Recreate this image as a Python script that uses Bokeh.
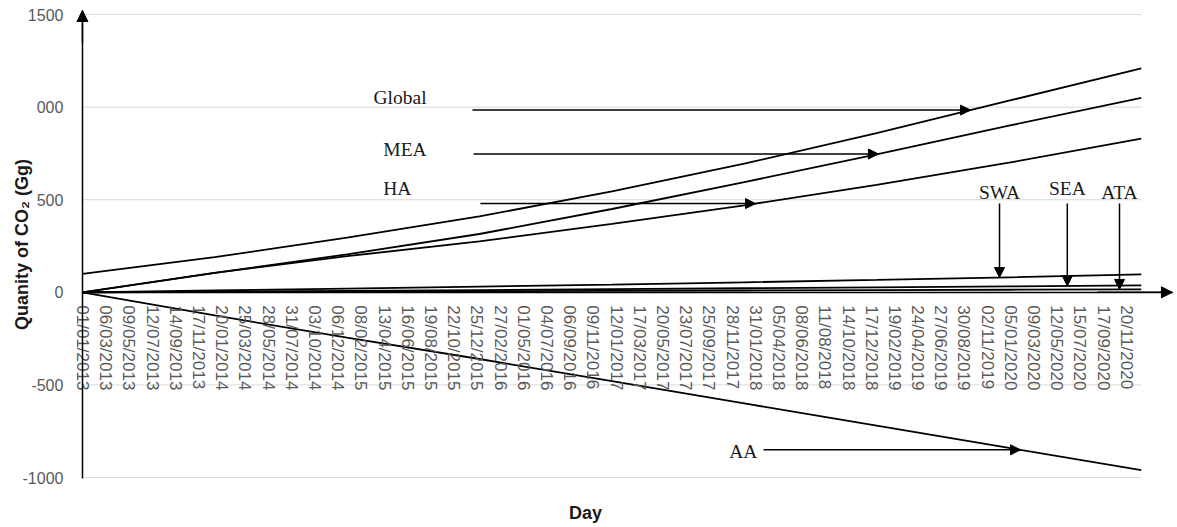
from datetime import datetime

import numpy as np
from bokeh.embed import file_html
from bokeh.models import Arrow, FixedTicker, Label, LinearAxis, NormalHead, Range1d
from bokeh.plotting import figure
from bokeh.resources import INLINE

# ---- data -------------------------------------------------------------
tick_labels = [
    "01/01/2013", "06/03/2013", "09/05/2013", "12/07/2013", "14/09/2013",
    "17/11/2013", "20/01/2014", "25/03/2014", "28/05/2014", "31/07/2014",
    "03/10/2014", "06/12/2014", "08/02/2015", "13/04/2015", "16/06/2015",
    "19/08/2015", "22/10/2015", "25/12/2015", "27/02/2016", "01/05/2016",
    "04/07/2016", "06/09/2016", "09/11/2016", "12/01/2017", "17/03/2017",
    "20/05/2017", "23/07/2017", "25/09/2017", "28/11/2017", "31/01/2018",
    "05/04/2018", "08/06/2018", "11/08/2018", "14/10/2018", "17/12/2018",
    "19/02/2019", "24/04/2019", "27/06/2019", "30/08/2019", "02/11/2019",
    "05/01/2020", "09/03/2020", "12/05/2020", "15/07/2020", "17/09/2020",
    "20/11/2020",
]

point_dates = [
    "01/01/2013", "01/01/2014", "01/01/2015", "01/01/2016", "01/01/2017",
    "01/01/2018", "01/01/2019", "01/01/2020", "31/12/2020",
]

global_co2 = [100, 190, 295, 410, 545, 695, 860, 1035, 1210]
mea_co2 = [0, 105, 205, 315, 450, 595, 745, 900, 1050]
ha_co2 = [0, 105, 195, 275, 370, 470, 580, 700, 830]
swa_co2 = [0, 10, 20, 31, 42, 54, 67, 81, 97]
sea_co2 = [0, 4, 8, 12, 17, 22, 27, 32, 38]
ata_co2 = [0, 2, 4, 6, 8, 10, 12, 14, 16]
aa_co2 = [0, -125, -245, -360, -480, -600, -720, -840, -960]

y_ticks = [-1000, -500, 0, 500, 1000, 1500]
y_tick_labels = ["-1000", "-500", "0", "500", "000", "1500"]

# ---- helpers ------------------------------------------------------------
START = datetime(2013, 1, 1)


def day_of(s):
    return (datetime.strptime(s, "%d/%m/%Y") - START).days


tick_days = [day_of(s) for s in tick_labels]
point_days = [day_of(s) for s in point_dates]
last_day = point_days[-1]

TICK_FONT = "Liberation Sans"
NOTE_FONT = "Liberation Serif"
GREY = "#595959"
INK = "#1a1a1a"

# axis extents (data units)
Y_LO, Y_HI = -1005, 1522
X_AXIS_END = 3007

# the frame fills the whole canvas; both axes sit inside it at x=0 / y=0
p = figure(
    width=1177, height=527,
    output_backend="svg", toolbar_location=None,
    x_range=Range1d(-226, 3021), y_range=Range1d(-1270, 1576),
    x_axis_location=None, y_axis_location="left",
    min_border=0,
    background_fill_color="white", border_fill_color="white",
)
p.outline_line_color = None
p.xgrid.visible = False
p.ygrid.visible = False

# horizontal gridlines spanning the data period
p.segment(x0=[0] * len(y_ticks), x1=[last_day] * len(y_ticks),
          y0=y_ticks, y1=y_ticks, line_color="#d9d9d9", line_width=1)

# ---- y axis ---------------------------------------------------------------
yax = p.yaxis[0]
yax.fixed_location = 0
yax.bounds = (Y_LO, Y_HI)
yax.ticker = FixedTicker(ticks=y_ticks)
yax.major_label_overrides = dict(zip(y_ticks, y_tick_labels))
yax.major_tick_out = 0
yax.major_tick_in = 0
yax.minor_tick_out = 0
yax.minor_tick_in = 0
yax.major_label_standoff = 19
yax.major_label_text_font = TICK_FONT
yax.major_label_text_font_size = "16px"
yax.major_label_text_color = GREY
yax.axis_line_color = "black"
yax.axis_line_width = 1.5
yax.axis_label = "Quanity of CO\u2082 (Gg)"
yax.axis_label_text_font = TICK_FONT
yax.axis_label_text_font_style = "bold"
yax.axis_label_text_font_size = "18px"
yax.axis_label_text_color = INK
yax.axis_label_standoff = -12

# ---- x axis drawn along y = 0 ---------------------------------------------
xax = LinearAxis(
    fixed_location=0,
    bounds=(0, X_AXIS_END),
    ticker=FixedTicker(ticks=tick_days),
    major_label_overrides=dict(zip(tick_days, tick_labels)),
    major_label_orientation="vertical",
    major_tick_out=0, major_tick_in=0, minor_tick_out=0, minor_tick_in=0,
    major_label_standoff=13,
    major_label_text_font=TICK_FONT,
    major_label_text_font_size="17px",
    major_label_text_color=GREY,
    axis_line_color="black", axis_line_width=1.5,
)
p.add_layout(xax, "below")

# axis arrow heads
p.add_layout(Arrow(x_start=2800, y_start=0, x_end=X_AXIS_END, y_end=0,
                   line_color="black", line_width=1.5,
                   end=NormalHead(size=11, fill_color="black", line_color="black")))
p.add_layout(Arrow(x_start=0, y_start=1350, x_end=0, y_end=Y_HI,
                   line_color="black", line_width=1.5,
                   end=NormalHead(size=11, fill_color="black", line_color="black")))

# ---- series ------------------------------------------------------------------
series = {
    "Global": global_co2, "MEA": mea_co2, "HA": ha_co2,
    "SWA": swa_co2, "SEA": sea_co2, "ATA": ata_co2, "AA": aa_co2,
}
for name, vals in series.items():
    p.line(point_days, vals, line_color="black", line_width=1.8)


def at(name, day):
    return float(np.interp(day, point_days, series[name]))


def head():
    return NormalHead(size=10, fill_color="black", line_color="black")


def note(text, x, y, align):
    p.add_layout(Label(x=x, y=y, text=text, text_align=align,
                       text_baseline="middle", text_font=NOTE_FONT,
                       text_font_size="19.5px", text_color=INK))


# horizontal pointers: (label, label x, label y, tail day, tip day)
for name, lx, ly, tail, tip in [
    ("Global", 803, 1052, 1076, 2450),
    ("MEA", 830, 771, 1079, 2196),
    ("HA", 830, 560, 1098, 1857),
]:
    y = at(name, tip)
    p.add_layout(Arrow(x_start=tail, y_start=y, x_end=tip, y_end=y,
                       line_color="black", line_width=1.5, end=head()))
    note(name, lx, ly, "left")

# vertical pointers for the small series: (label, day, label y, tail y)
for name, d, ly, tail in [
    ("SWA", 2530, 539, 480),
    ("SEA", 2717, 560, 480),
    ("ATA", 2861, 539, 480),
]:
    p.add_layout(Arrow(x_start=d, y_start=tail, x_end=d, y_end=at(name, d),
                       line_color="black", line_width=1.5, end=head()))
    note(name, d, ly, "center")

# AA pointer
aa_tip = 2588
p.add_layout(Arrow(x_start=1879, y_start=at("AA", aa_tip), x_end=aa_tip,
                   y_end=at("AA", aa_tip), line_color="black", line_width=1.5,
                   end=head()))
note("AA", 1862, at("AA", aa_tip) - 10, "right")

# x axis title
p.add_layout(Label(x=1388, y=-1189, text="Day", text_align="center",
                   text_baseline="middle", text_font=TICK_FONT,
                   text_font_style="bold", text_font_size="18px",
                   text_color=INK))

open("out.html", "w").write(file_html(p, INLINE))
